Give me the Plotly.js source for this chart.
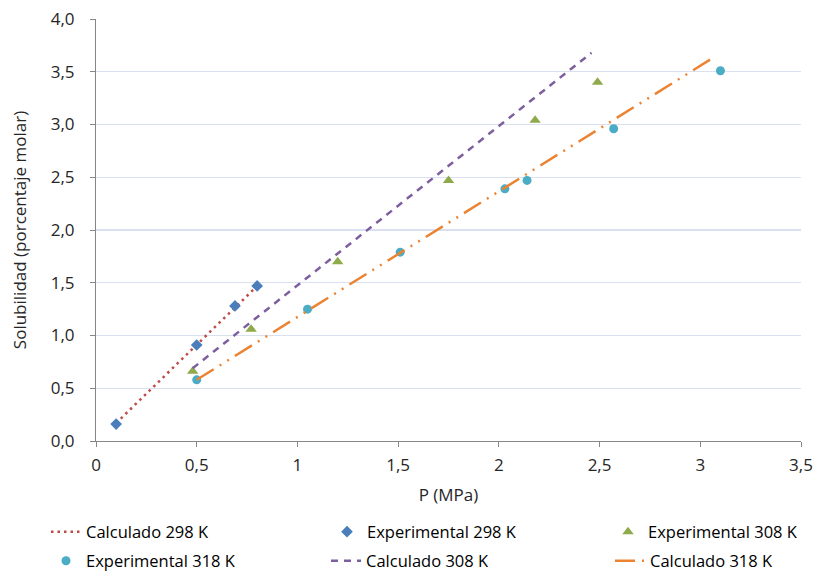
<!DOCTYPE html>
<html>
<head>
<meta charset="utf-8">
<script src="https://cdn.plot.ly/plotly-3.0.1.min.js"></script>
<style>
  html, body { margin: 0; padding: 0; background: #fff; }
  #chart { width: 818px; height: 571px; }
</style>
</head>
<body>
<div id="chart"></div>
<script>
// Measured solubility (mol %) versus pressure (MPa)
const exp298P = [0.10, 0.50, 0.69, 0.80];
const exp298S = [0.16, 0.91, 1.28, 1.47];

const exp308P = [0.48, 0.77, 1.20, 1.75, 2.18, 2.49];
const exp308S = [0.66, 1.06, 1.70, 2.47, 3.04, 3.40];

const exp318P = [0.50, 1.05, 1.51, 2.03, 2.14, 2.57, 3.10];
const exp318S = [0.58, 1.25, 1.79, 2.39, 2.47, 2.96, 3.51];

// Model lines (end points)
const calc298P = [0.10, 0.79];
const calc298S = [0.17, 1.45];

const calc308P = [0.48, 2.46];
const calc308S = [0.69, 3.68];

const calc318P = [0.50, 3.07];
const calc318S = [0.58, 3.64];

const FONT = '"Open Sans", "Noto Sans", sans-serif';
const TXT = '#262626';
const W = 818, H = 571;

const traces = [
  { x: calc298P, y: calc298S, name: 'Calculado 298 K', mode: 'lines',
    line: { color: '#BE4B48', width: 2.5, dash: '2.5px,4px' }, legend: 'legend' },
  { x: exp298P, y: exp298S, name: 'Experimental 298 K', mode: 'markers',
    marker: { symbol: 'diamond', size: 9, color: '#4A7EBB' }, legend: 'legend2' },
  { x: exp308P, y: exp308S, name: 'Experimental 308 K', mode: 'markers',
    marker: { symbol: 'triangle-up', size: 10, color: '#8FAA4B' }, legend: 'legend3' },
  { x: exp318P, y: exp318S, name: 'Experimental 318 K', mode: 'markers',
    marker: { symbol: 'circle', size: 9, color: '#4BACC6' }, legend: 'legend4' },
  { x: calc308P, y: calc308S, name: 'Calculado 308 K', mode: 'lines',
    line: { color: '#7D5FA0', width: 2.5, dash: '7px,6px' }, legend: 'legend5' },
  { x: calc318P, y: calc318S, name: 'Calculado 318 K', mode: 'lines',
    line: { color: '#EB8333', width: 2.5, dash: '20px,7px,2px,7px,2px,7px' }, legend: 'legend6' }
];

// One single-entry legend per slot of the 3 x 2 key below the plot
function key(px, py) {
  return {
    xref: 'container', yref: 'container',
    x: px / W, y: 1 - py / H,
    xanchor: 'left', yanchor: 'middle',
    orientation: 'h',
    font: { family: FONT, size: 16.5, color: '#000' },
    bgcolor: 'rgba(0,0,0,0)',
    borderwidth: 0
  };
}

const layout = {
  width: W, height: H,
  margin: { l: 96, r: 17, t: 19, b: 130 },
  paper_bgcolor: '#fff', plot_bgcolor: '#fff',
  font: { family: FONT, size: 17, color: TXT },
  xaxis: {
    range: [0, 3.5],
    tickvals: [0, 0.5, 1, 1.5, 2, 2.5, 3, 3.5],
    ticktext: ['0', '0,5', '1', '1,5', '2', '2,5', '3', '3,5'],
    showgrid: false, zeroline: false,
    showline: true, linecolor: '#868686', linewidth: 1,
    ticks: 'outside', ticklen: 5, tickcolor: '#868686',
    ticklabelstandoff: 4,
    tickfont: { family: FONT, size: 17, color: TXT },
    title: { text: 'P (MPa)', font: { family: FONT, size: 17, color: TXT }, standoff: 13 }
  },
  yaxis: {
    range: [0, 4],
    tickvals: [0, 0.5, 1, 1.5, 2, 2.5, 3, 3.5, 4],
    ticktext: ['0,0', '0,5', '1,0', '1,5', '2,0', '2,5', '3,0', '3,5', '4,0'],
    showgrid: true, gridcolor: '#D9E1F0', gridwidth: 1.3,
    zeroline: false,
    showline: true, linecolor: '#868686', linewidth: 1,
    ticks: 'outside', ticklen: 5, tickcolor: '#868686',
    ticklabelstandoff: 12,
    tickfont: { family: FONT, size: 17, color: TXT },
    title: { text: 'Solubilidad (porcentaje molar)', font: { family: FONT, size: 17, color: TXT }, standoff: 19 }
  },
  legend: key(46, 532),
  legend2: key(327, 532),
  legend3: key(608, 532),
  legend4: key(46, 561),
  legend5: key(326, 561),
  legend6: key(610, 561),
  showlegend: true
};

Plotly.newPlot('chart', traces, layout, { displayModeBar: false, staticPlot: true });
</script>
</body>
</html>
